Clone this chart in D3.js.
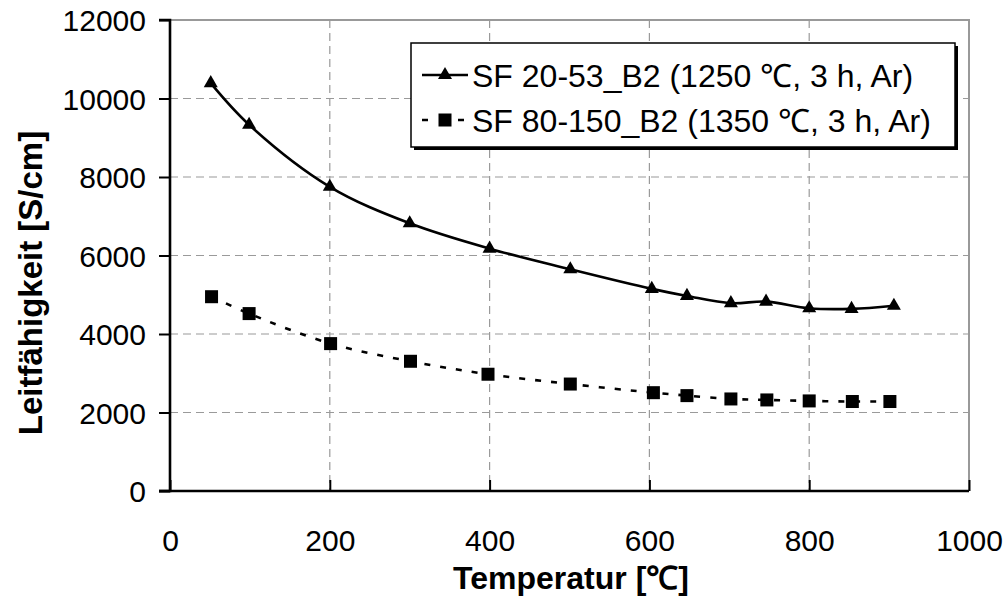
<!DOCTYPE html>
<html><head><meta charset="utf-8">
<script src="https://cdn.jsdelivr.net/npm/d3@7"></script>
<style>body{margin:0;background:#fff}svg{display:block;font-family:"Liberation Sans",Arial,sans-serif}</style>
</head><body><svg id="c" width="1005" height="599"></svg>
<script>
const temps1 = [51, 99, 200, 300, 400, 501, 603, 647, 702, 746, 800, 853, 906];
const cond1  = [10390, 9330, 7750, 6820, 6175, 5650, 5150, 4970, 4785, 4825, 4655, 4640, 4720];
const temps2 = [52, 99, 201, 301, 398, 501, 605, 647, 702, 747, 800, 854, 901];
const cond2  = [4950, 4520, 3755, 3305, 2975, 2725, 2505, 2430, 2345, 2320, 2295, 2280, 2280];
const seriesNames = ["SF 20-53_B2 (1250 \u2103, 3 h, Ar)", "SF 80-150_B2 (1350 \u2103, 3 h, Ar)"];
const xTicks = [0, 200, 400, 600, 800, 1000];
const yTicks = [0, 2000, 4000, 6000, 8000, 10000, 12000];
const xTitle = "Temperatur [\u2103]";
const yTitle = "Leitfähigkeit [S/cm]";

const svg = d3.select("#c");
const L = 170, R = 969, T = 20, B = 491;
const x = d3.scaleLinear().domain([0, 1000]).range([L, R]);
const y = d3.scaleLinear().domain([0, 12000]).range([B, T]);

// grid
const g = svg.append("g");
g.selectAll(".hg").data(yTicks.filter(v => v > 0 && v < 12000)).join("line")
  .attr("x1", L).attr("x2", R).attr("y1", d => y(d)).attr("y2", d => y(d))
  .attr("stroke", "#9a9a9a").attr("stroke-width", 1.2).attr("stroke-dasharray", "8,5");
g.selectAll(".vg").data(xTicks.filter(v => v > 0 && v < 1000)).join("line")
  .attr("y1", T).attr("y2", B).attr("x1", d => x(d)).attr("x2", d => x(d))
  .attr("stroke", "#9a9a9a").attr("stroke-width", 1.2).attr("stroke-dasharray", "8,5");
svg.append("path").attr("d", `M${L},${T}H${R}V${B}`).attr("fill", "none")
  .attr("stroke", "#999").attr("stroke-width", 2);

// axes
const yAxis = svg.append("g").attr("transform", `translate(${L},0)`)
  .call(d3.axisLeft(y).tickValues(yTicks).tickSize(11).tickPadding(13).tickFormat(d3.format("d")));
const xAxis = svg.append("g").attr("transform", `translate(0,${B})`)
  .call(d3.axisBottom(x).tickValues(xTicks).tickSize(-11).tickPadding(35).tickFormat(d3.format("d")));
[yAxis, xAxis].forEach(a => {
  a.select(".domain").attr("stroke", "#000").attr("stroke-width", 2.6);
  a.selectAll(".tick line").attr("stroke", "#000").attr("stroke-width", 2);
  a.selectAll(".tick text").attr("fill", "#000").attr("font-size", 30)
    .attr("font-family", '"Liberation Sans",Arial,sans-serif');
});
yAxis.selectAll(".tick text").attr("dy", "0.36em");
xAxis.selectAll(".tick text").attr("dy", "0.36em").attr("y", 49);
yAxis.select(".domain").attr("d", `M-11,${T}H0V${B}H-11`);
xAxis.select(".domain").attr("d", `M${L - 11},0H${R}`);

// titles
svg.append("text").attr("x", 571).attr("y", 589).attr("text-anchor", "middle")
  .attr("font-size", 32).attr("font-weight", "bold").text(xTitle);
svg.append("text").attr("transform", "translate(42,283) rotate(-90)").attr("text-anchor", "middle")
  .attr("font-size", 33).attr("font-weight", "bold").text(yTitle);

// lines
const line = d3.line().x(d => x(d[0])).y(d => y(d[1])).curve(d3.curveCatmullRom.alpha(0.5));
const d1 = temps1.map((t, i) => [t, cond1[i]]);
const d2 = temps2.map((t, i) => [t, cond2[i]]);
svg.append("path").datum(d1).attr("d", line).attr("fill", "none").attr("stroke", "#000").attr("stroke-width", 2.6);
svg.append("path").datum(d2).attr("d", line).attr("fill", "none").attr("stroke", "#000").attr("stroke-width", 2.6)
  .attr("stroke-dasharray", "6,10");

const tri = d3.symbol().type(d3.symbolTriangle).size(85);
svg.selectAll(".m1").data(d1).join("path").attr("d", tri)
  .attr("transform", d => `translate(${x(d[0])},${y(d[1])})`).attr("fill", "#000");
svg.selectAll(".m2").data(d2).join("rect")
  .attr("x", d => x(d[0]) - 6.5).attr("y", d => y(d[1]) - 6.5).attr("width", 13).attr("height", 13).attr("fill", "#000");

// legend
const lg = svg.append("g");
lg.append("rect").attr("x", 414).attr("y", 46).attr("width", 544).attr("height", 104).attr("fill", "#000");
lg.append("rect").attr("x", 411).attr("y", 43).attr("width", 544).attr("height", 104)
  .attr("fill", "#fff").attr("stroke", "#000").attr("stroke-width", 1.5);
lg.append("line").attr("x1", 422).attr("x2", 468).attr("y1", 75).attr("y2", 75).attr("stroke", "#000").attr("stroke-width", 2.6);
lg.append("path").attr("d", tri).attr("transform", "translate(445,75)").attr("fill", "#000");
lg.append("line").attr("x1", 422).attr("x2", 468).attr("y1", 120).attr("y2", 120).attr("stroke", "#000").attr("stroke-width", 2.6)
  .attr("stroke-dasharray", "6,12");
lg.append("rect").attr("x", 438.5).attr("y", 113.5).attr("width", 13).attr("height", 13).attr("fill", "#000");
lg.selectAll(".lt").data(seriesNames).join("text").attr("x", 472).attr("y", (d, i) => 75 + i * 45)
  .attr("dy", "0.36em").attr("font-size", 32).text(d => d);
</script></body></html>
